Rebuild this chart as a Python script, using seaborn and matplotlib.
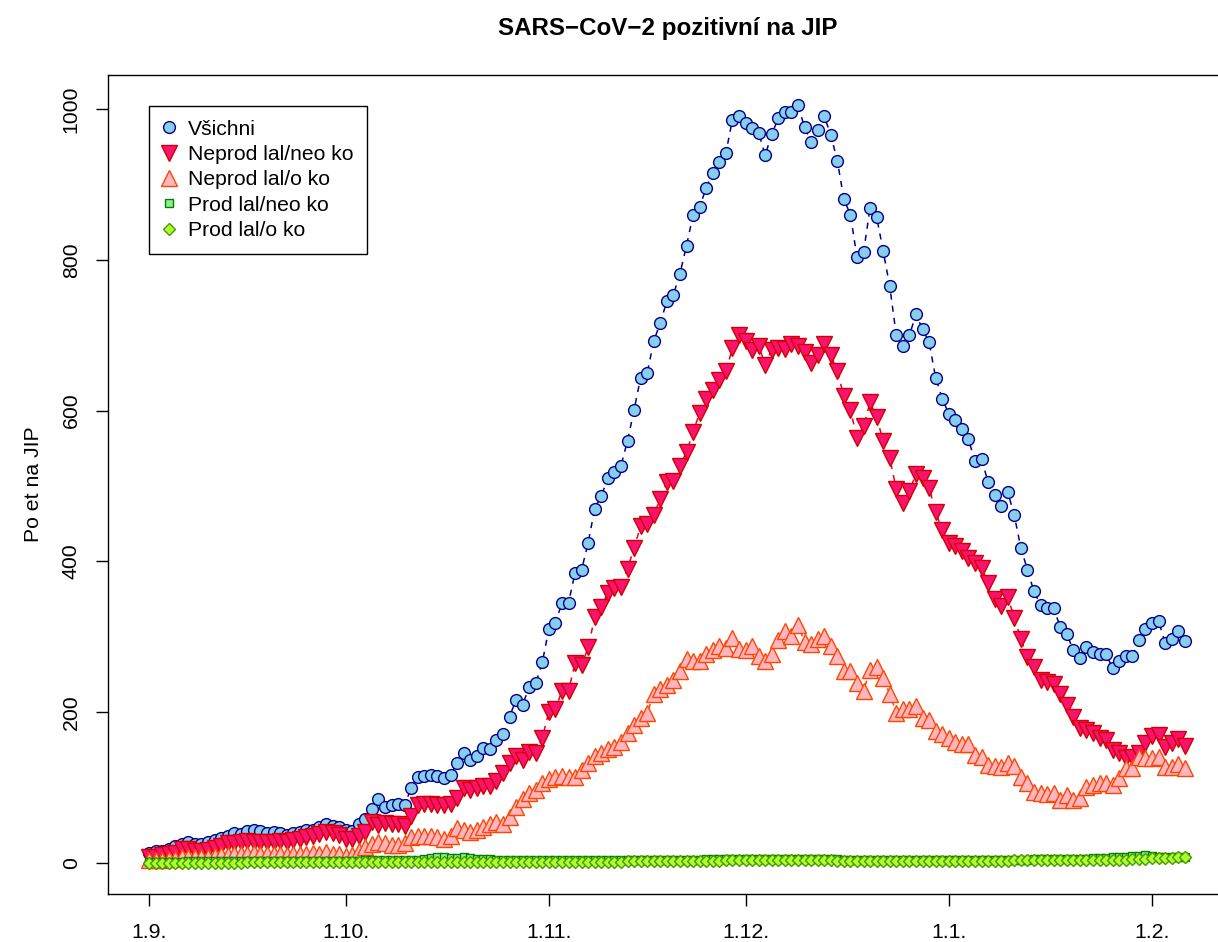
import matplotlib
matplotlib.use('Agg')
import matplotlib.pyplot as plt
from matplotlib.lines import Line2D
import numpy as np
import pandas as pd
import seaborn as sns

# daily counts from 1.9. onwards
vsichni = [13, 15, 16, 18, 22, 25, 27, 25, 25, 27,
           30, 33, 35, 40, 38, 42, 44, 42, 39, 41,
           39, 37, 39, 41, 44, 44, 48, 51, 49, 48,
           44, 42, 51, 58, 71, 85, 74, 77, 78, 77,
           99, 114, 115, 116, 115, 112, 116, 133, 145, 137,
           141, 152, 151, 163, 171, 194, 216, 210, 233, 238,
           266, 310, 318, 345, 345, 385, 389, 425, 470, 487,
           510, 518, 527, 560, 601, 644, 650, 692, 717, 745,
           754, 782, 819, 860, 870, 896, 915, 930, 942, 986,
           991, 982, 975, 969, 939, 967, 988, 996, 996, 1006,
           976, 957, 973, 991, 966, 932, 881, 860, 804, 810,
           869, 857, 812, 765, 700, 686, 700, 728, 708, 691,
           644, 616, 596, 588, 576, 562, 533, 536, 505, 488,
           474, 492, 461, 418, 389, 360, 342, 338, 338, 313,
           304, 282, 272, 286, 280, 277, 277, 258, 268, 274,
           274, 296, 310, 318, 321, 292, 297, 307, 294]

neprod_neo = [7, 7, 10, 11, 13, 18, 18, 16, 16, 17,
              20, 22, 26, 26, 28, 29, 28, 28, 28, 28,
              29, 28, 30, 32, 34, 35, 38, 41, 39, 37,
              32, 31, 35, 41, 54, 50, 53, 51, 51, 49,
              62, 76, 78, 78, 77, 76, 78, 86, 99, 96,
              99, 102, 102, 109, 119, 132, 142, 136, 147, 145,
              166, 200, 204, 228, 228, 265, 262, 286, 326, 340,
              358, 365, 366, 390, 418, 447, 450, 462, 483, 505,
              507, 527, 545, 572, 597, 615, 627, 641, 652, 683,
              701, 692, 680, 686, 661, 681, 683, 682, 688, 686,
              678, 663, 674, 688, 674, 652, 620, 601, 564, 579,
              611, 591, 560, 537, 496, 478, 493, 516, 511, 498,
              466, 441, 425, 421, 414, 404, 398, 391, 371, 350,
              341, 353, 325, 297, 273, 260, 242, 240, 237, 224,
              209, 194, 179, 176, 172, 166, 163, 150, 145, 139,
              140, 145, 159, 168, 169, 154, 159, 164, 155]

neprod_o = [3, 4, 4, 5, 5, 7, 8, 8, 7, 8,
            9, 10, 10, 12, 11, 12, 13, 12, 11, 12,
            11, 10, 11, 12, 12, 13, 12, 14, 12, 11,
            9, 10, 16, 21, 25, 27, 26, 23, 23, 26,
            34, 35, 35, 35, 34, 32, 35, 46, 43, 41,
            44, 48, 51, 54, 52, 61, 74, 85, 92, 97,
            106, 111, 114, 115, 114, 114, 123, 133, 141, 145,
            151, 153, 160, 172, 183, 192, 199, 224, 230, 236,
            243, 255, 270, 268, 268, 277, 283, 287, 285, 298,
            284, 282, 287, 275, 268, 277, 296, 308, 301, 316,
            293, 290, 297, 301, 287, 274, 255, 255, 239, 228,
            256, 260, 245, 224, 199, 204, 204, 208, 192, 190,
            175, 171, 166, 160, 157, 157, 143, 140, 130, 128,
            127, 132, 128, 114, 106, 94, 92, 91, 92, 83,
            90, 83, 86, 101, 103, 106, 106, 103, 112, 126,
            126, 140, 139, 139, 140, 127, 127, 131, 126]

prod_neo = [1, 1, 1, 1, 1, 1, 2, 2, 2, 2,
            2, 2, 2, 2, 2, 2, 2, 2, 2, 2,
            2, 2, 2, 2, 2, 2, 2, 2, 2, 2,
            2, 2, 2, 3, 3, 3, 3, 3, 4, 4,
            4, 4, 5, 6, 7, 7, 6, 6, 7, 6,
            5, 5, 5, 4, 4, 4, 4, 4, 3, 3,
            3, 3, 3, 3, 3, 3, 3, 3, 3, 3,
            3, 3, 3, 3, 3, 3, 4, 4, 4, 4,
            4, 4, 4, 4, 4, 5, 5, 5, 5, 5,
            5, 5, 5, 5, 5, 5, 5, 5, 5, 5,
            5, 5, 5, 5, 5, 5, 4, 4, 4, 4,
            4, 4, 4, 4, 4, 4, 3, 3, 3, 3,
            3, 3, 3, 3, 3, 3, 3, 3, 3, 4,
            4, 4, 4, 4, 4, 5, 5, 5, 5, 5,
            5, 5, 5, 5, 6, 6, 6, 7, 7, 8,
            9, 9, 10, 9, 8, 8, 8, 7, 8]

prod_o = [0, 0, 0, 0, 0, 0, 0, 0, 0, 0,
          0, 0, 0, 0, 0, 1, 1, 1, 1, 1,
          1, 1, 1, 1, 1, 1, 1, 1, 1, 1,
          1, 1, 1, 1, 1, 1, 1, 1, 1, 1,
          1, 1, 1, 1, 1, 1, 1, 1, 1, 1,
          1, 1, 1, 1, 1, 1, 1, 1, 1, 1,
          1, 1, 1, 1, 1, 1, 1, 1, 1, 1,
          1, 1, 1, 2, 2, 2, 2, 2, 2, 2,
          2, 2, 2, 2, 2, 2, 2, 2, 3, 3,
          3, 3, 3, 3, 3, 3, 3, 3, 3, 3,
          3, 3, 3, 3, 3, 2, 2, 2, 2, 2,
          2, 2, 2, 2, 2, 2, 2, 2, 2, 2,
          2, 2, 2, 2, 2, 2, 2, 2, 2, 2,
          2, 2, 3, 3, 3, 3, 3, 3, 3, 3,
          4, 3, 3, 3, 4, 4, 4, 4, 4, 4,
          5, 5, 5, 6, 6, 6, 6, 7, 7]

series_names = ['Všichni', 'Neprod lal/neo ko', 'Neprod lal/o ko',
                'Prod lal/neo ko', 'Prod lal/o ko']
tick_days = [0, 30, 61, 91, 122, 153]
tick_labels = ['1.9.', '1.10.', '1.11.', '1.12.', '1.1.', '1.2.']

# build long table
values = [vsichni, neprod_neo, neprod_o, prod_neo, prod_o]
df = pd.concat([pd.DataFrame({'day': np.arange(len(v)), 'count': v, 'series': name})
                for name, v in zip(series_names, values)], ignore_index=True)

styles = {
    'Všichni':           dict(marker='o', ms=8.5, mfc='#87CEEB', mec='#00008B', lc='#00008B'),
    'Neprod lal/neo ko': dict(marker='v', ms=11, mfc='#F7136E', mec='#D40000', lc='#E8001C'),
    'Neprod lal/o ko':   dict(marker='^', ms=11, mfc='#FFB6C1', mec='#FF4500', lc='#FF4500'),
    'Prod lal/neo ko':   dict(marker='s', ms=6, mfc='#90EE90', mec='#008000', lc='#008000'),
    'Prod lal/o ko':     dict(marker='D', ms=6.5, mfc='#ADFF2F', mec='#4A9A00', lc='#4A9A00'),
}

sns.set_theme(style='white')
plt.rcParams['font.family'] = ['Liberation Sans', 'DejaVu Sans']
plt.rcParams['text.color'] = 'black'

fig = plt.figure(figsize=(12.18, 9.42), dpi=100)
ax = fig.add_axes([108 / 1218, 48 / 942, 1120 / 1218, 819 / 942])

handles = []
for name in series_names:
    st = styles[name]
    sns.lineplot(data=df[df['series'] == name], x='day', y='count', ax=ax,
                 color=st['lc'], linewidth=1.1, linestyle=(0, (4, 4)),
                 marker=st['marker'], markersize=st['ms'],
                 markerfacecolor=st['mfc'], markeredgecolor=st['mec'],
                 markeredgewidth=1.0, legend=False)
    handles.append(Line2D([], [], linestyle='None', marker=st['marker'],
                          markersize=st['ms'], markerfacecolor=st['mfc'],
                          markeredgecolor=st['mec'], markeredgewidth=1.0, label=name))

ax.set_xlim(-6.25, 164.6)
ax.set_ylim(-41.5, 1045.5)
ax.set_xticks(tick_days)
ax.set_xticklabels(tick_labels)
ax.set_yticks([0, 200, 400, 600, 800, 1000])
ax.set_yticklabels(['0', '200', '400', '600', '800', '1000'], rotation=90, va='center')
ax.tick_params(axis='both', direction='out', length=8.6, width=1.0, color='black',
               labelsize=15.3, labelcolor='black', left=True, bottom=True)
ax.tick_params(axis='x', pad=12)
ax.tick_params(axis='y', pad=11)
for sp in ax.spines.values():
    sp.set_color('black')
    sp.set_linewidth(1.0)

ax.set_xlabel('')
ax.set_ylabel('Po et na JIP', fontsize=15.3, color='black')
ax.yaxis.set_label_coords(-0.058, 0.5)

fig.text(668 / 1218, 1 - 28 / 942, 'SARS\u2212CoV\u22122 pozitivní na JIP',
         ha='center', va='center', fontsize=17.4, fontweight='bold', color='black')

leg = ax.legend(handles=handles, loc='upper left',
                bbox_to_anchor=(149 / 1218, 1 - 106 / 942), bbox_transform=fig.transFigure,
                borderaxespad=0, frameon=True, fancybox=False, framealpha=1,
                edgecolor='black', fontsize=15.2, borderpad=0.65, handlelength=0.55,
                handletextpad=0.65, labelspacing=0.3)
leg.get_frame().set_linewidth(1.0)
for t in leg.get_texts():
    t.set_color('black')

fig.savefig('out.png', dpi=100)
